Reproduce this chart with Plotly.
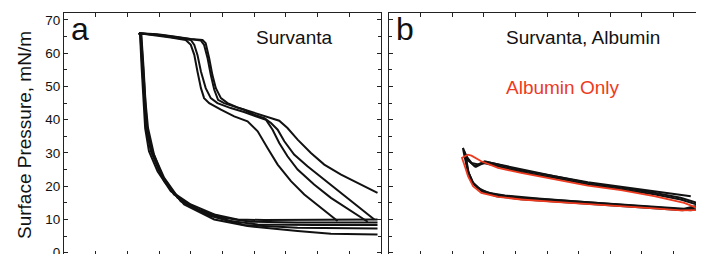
import plotly.graph_objects as go

# ---------------- Panel a: Survanta (4 compression/expansion cycles + 1 extra expansion) ----
a1_x = [9.89, 9.26, 8.74, 8.21, 7.79, 7.37, 7.05, 6.79, 6.53, 6.21, 5.89, 5.47, 5.16, 4.95, 4.79, 4.68, 4.58, 4.47, 4.37, 4.00, 3.47, 2.95, 2.37,
        2.40, 2.45, 2.51, 2.56, 2.68, 2.95, 3.37, 4.00, 4.74, 5.47, 6.32, 7.37, 8.42, 9.89]
a1_y = [18.0, 21.0, 23.5, 26.5, 30.0, 34.0, 37.5, 39.7, 40.5, 41.3, 42.5, 43.7, 45.0, 46.5, 49.5, 53.5, 58.5, 63.0, 64.0, 64.3, 65.0, 65.7, 66.0,
        65.5, 55.5, 45.5, 37.5, 30.5, 24.5, 18.5, 14.5, 11.5, 10.0, 9.8, 9.8, 9.9, 10.0]

a2_x = [9.79, 9.26, 8.74, 8.21, 7.68, 7.26, 6.95, 6.74, 6.53, 6.32, 6.00, 5.68, 5.37, 5.05, 4.86, 4.74, 4.63, 4.53, 4.42, 4.32, 3.79, 3.16, 2.37,
        2.41, 2.47, 2.53, 2.59, 2.74, 3.05, 3.47, 4.21, 5.05, 5.89, 7.37, 9.89]
a2_y = [10.0, 14.0, 18.0, 22.0, 26.0, 29.5, 33.5, 37.0, 39.0, 40.5, 41.5, 43.0, 44.0, 45.0, 46.0, 49.0, 53.5, 58.5, 62.5, 63.8, 64.5, 65.3, 66.0,
        65.5, 55.5, 45.5, 37.5, 30.5, 23.5, 17.5, 13.0, 10.5, 9.3, 9.1, 9.1]

a3_x = [9.58, 9.05, 8.42, 7.89, 7.37, 7.05, 6.79, 6.58, 6.37, 6.05, 5.68, 5.26, 4.84, 4.63, 4.47, 4.32, 4.21, 4.11, 4.00, 3.47, 2.95, 2.37,
        2.42, 2.48, 2.54, 2.60, 2.76, 3.11, 3.58, 4.42, 5.26, 6.11, 7.89, 9.89]
a3_y = [9.3, 12.5, 16.5, 20.5, 25.0, 29.0, 33.0, 37.0, 40.0, 41.0, 42.3, 43.5, 45.0, 46.5, 49.5, 54.5, 59.5, 62.5, 64.0, 64.7, 65.5, 66.0,
        65.5, 55.5, 45.5, 37.5, 30.5, 23.0, 16.5, 12.0, 9.5, 8.5, 8.3, 8.3]

a4_x = [8.63, 8.11, 7.58, 7.16, 6.74, 6.42, 6.11, 5.79, 5.37, 4.95, 4.58, 4.42, 4.32, 4.21, 4.11, 4.00, 3.84, 3.37, 2.84, 2.37,
        2.43, 2.49, 2.55, 2.62, 2.79, 3.16, 3.68, 4.63, 5.68, 7.37, 9.89]
a4_y = [9.5, 13.5, 17.5, 21.5, 26.5, 31.5, 36.5, 39.5, 41.0, 43.0, 45.0, 46.5, 49.5, 54.5, 59.5, 62.5, 64.0, 64.7, 65.5, 66.0,
        65.5, 55.5, 45.5, 37.5, 30.5, 22.5, 15.5, 11.0, 8.3, 7.5, 7.3]

a5_x = [2.37, 2.44, 2.51, 2.57, 2.65, 2.84, 3.16, 3.79, 4.74, 5.79, 7.37, 8.42, 9.89]
a5_y = [66.0, 65.5, 55.5, 45.5, 37.5, 29.5, 21.5, 14.5, 10.0, 8.0, 6.5, 5.7, 5.5]

# ---------------- Panel b: Survanta + Albumin (black), Albumin only (red) ----------------
b1_x = [9.55, 8.39, 7.34, 6.29, 5.24, 4.18, 3.66, 3.13, 2.82, 2.61, 2.45, 2.34,
        2.37, 2.48, 2.61, 2.82, 3.13, 3.66, 4.71, 5.76, 6.81, 7.86, 8.92, 9.55, 9.86]
b1_y = [17.0, 18.5, 19.8, 21.2, 23.0, 25.0, 26.0, 27.2, 26.5, 27.0, 29.0, 31.5,
        30.0, 25.0, 21.5, 19.5, 18.0, 17.2, 16.3, 15.5, 14.8, 14.0, 13.3, 12.8, 13.2]

b2_x = [9.92, 9.23, 8.39, 7.34, 6.29, 5.24, 4.18, 3.45, 3.03, 2.71, 2.50, 2.37,
        2.40, 2.50, 2.66, 2.92, 3.34, 4.18, 5.24, 6.29, 7.34, 8.39, 9.34, 9.92]
b2_y = [14.5, 16.5, 18.0, 19.5, 21.0, 23.0, 24.7, 26.5, 27.5, 26.0, 28.0, 30.5,
        30.0, 24.5, 21.0, 18.8, 17.5, 16.5, 15.8, 15.2, 14.5, 13.8, 13.2, 14.5]

b3_x = [9.90, 9.23, 8.39, 7.34, 6.29, 5.24, 4.18, 3.45, 3.00, 2.75, 2.52, 2.38,
        2.42, 2.52, 2.68, 2.95, 3.40, 4.18, 5.24, 6.29, 7.34, 8.39, 9.30, 9.90]
b3_y = [14.0, 16.0, 17.6, 19.2, 20.6, 22.5, 24.3, 26.0, 27.0, 25.8, 27.6, 30.0,
        29.5, 24.0, 20.6, 18.4, 17.0, 16.1, 15.4, 14.8, 14.1, 13.4, 12.8, 14.0]

r_x = [9.92, 9.34, 8.39, 7.34, 6.29, 5.24, 4.18, 3.45, 2.92, 2.61, 2.50, 2.40, 2.31,
       2.40, 2.50, 2.66, 2.92, 3.45, 4.18, 5.24, 6.29, 7.34, 8.39, 9.23, 9.92]
r_y = [12.8, 15.0, 17.0, 18.8, 20.2, 22.0, 24.0, 25.5, 27.5, 29.2, 29.5, 29.0, 28.5,
       26.0, 23.0, 20.0, 18.0, 16.8, 16.0, 15.3, 14.7, 14.0, 13.3, 12.7, 12.8]

y_ticks = [0, 10, 20, 30, 40, 50, 60, 70]
y_tick_labels = ["0", "10", "20", "30", "40", "50", "60", "70"]

FONT = "Liberation Sans, Arial, sans-serif"
BLACK = "#111111"
RED = "#ee3a1f"
FRAME = "#222222"

fig = go.Figure()

for xs, ys in [(a1_x, a1_y), (a2_x, a2_y), (a3_x, a3_y), (a4_x, a4_y), (a5_x, a5_y)]:
    fig.add_trace(go.Scatter(x=xs, y=ys, mode="lines", xaxis="x", yaxis="y",
                             line=dict(color=BLACK, width=2), showlegend=False, hoverinfo="skip"))

for xs, ys in [(b1_x, b1_y), (b2_x, b2_y), (b3_x, b3_y)]:
    fig.add_trace(go.Scatter(x=xs, y=ys, mode="lines", xaxis="x2", yaxis="y2",
                             line=dict(color=BLACK, width=2), showlegend=False, hoverinfo="skip"))
fig.add_trace(go.Scatter(x=r_x, y=r_y, mode="lines", xaxis="x2", yaxis="y2",
                         line=dict(color=RED, width=1.8), showlegend=False, hoverinfo="skip"))

W, H = 704, 254
ydom = [1 - 247 / H, 1 - 5 / H]

common_x = dict(range=[0, 10], showline=True, linecolor=FRAME, linewidth=1, mirror="ticks",
                ticks="inside", ticklen=4, tickwidth=1, tickcolor=FRAME, dtick=1, tick0=0,
                showticklabels=False, showgrid=False, zeroline=False, automargin=False)
common_y = dict(range=[-0.7, 72.1], showline=True, linecolor=FRAME, linewidth=1, mirror="ticks",
                ticks="inside", ticklen=4, tickwidth=1, tickcolor=FRAME,
                tickmode="array", tickvals=y_ticks, ticktext=y_tick_labels,
                minor=dict(ticks="inside", ticklen=3, tickcolor=FRAME, dtick=5, tick0=0, showgrid=False),
                showgrid=False, zeroline=False, automargin=False,
                tickfont=dict(family=FONT, size=13.5, color="#111111"))

fig.update_layout(
    width=W, height=H, margin=dict(l=0, r=0, t=0, b=0),
    paper_bgcolor="white", plot_bgcolor="white", template="none",
    xaxis=dict(domain=[56 / W, 373 / W], anchor="y", **common_x),
    yaxis=dict(domain=ydom, anchor="x", showticklabels=True, **common_y),
    xaxis2=dict(domain=[381 / W, 697 / W], anchor="y2", **common_x),
    yaxis2=dict(domain=ydom, anchor="x2", **{**common_y, "showticklabels": False}),
)

ann = [
    dict(text="a", xref="x domain", yref="y domain", x=0.015, y=0.935, xanchor="left", yanchor="middle",
         showarrow=False, font=dict(family=FONT, size=32, color="#111111")),
    dict(text="Survanta", xref="x domain", yref="y domain", x=0.7256, y=0.9, xanchor="center", yanchor="middle",
         showarrow=False, font=dict(family=FONT, size=19, color="#111111")),
    dict(text="b", xref="x2 domain", yref="y2 domain", x=0.015, y=0.935, xanchor="left", yanchor="middle",
         showarrow=False, font=dict(family=FONT, size=32, color="#111111")),
    dict(text="Survanta, Albumin", xref="x2 domain", yref="y2 domain", x=0.614, y=0.9, xanchor="center", yanchor="middle",
         showarrow=False, font=dict(family=FONT, size=19, color="#111111")),
    dict(text="Albumin Only", xref="x2 domain", yref="y2 domain", x=0.549, y=0.693, xanchor="center", yanchor="middle",
         showarrow=False, font=dict(family=FONT, size=19, color=RED)),
    dict(text="Surface Pressure, mN/m", xref="paper", yref="paper", x=16 / W, y=0.5, xanchor="center", yanchor="middle",
         textangle=-90, showarrow=False, font=dict(family=FONT, size=19, color="#111111")),
]
fig.update_layout(annotations=ann)

fig.write_html("out.html")
